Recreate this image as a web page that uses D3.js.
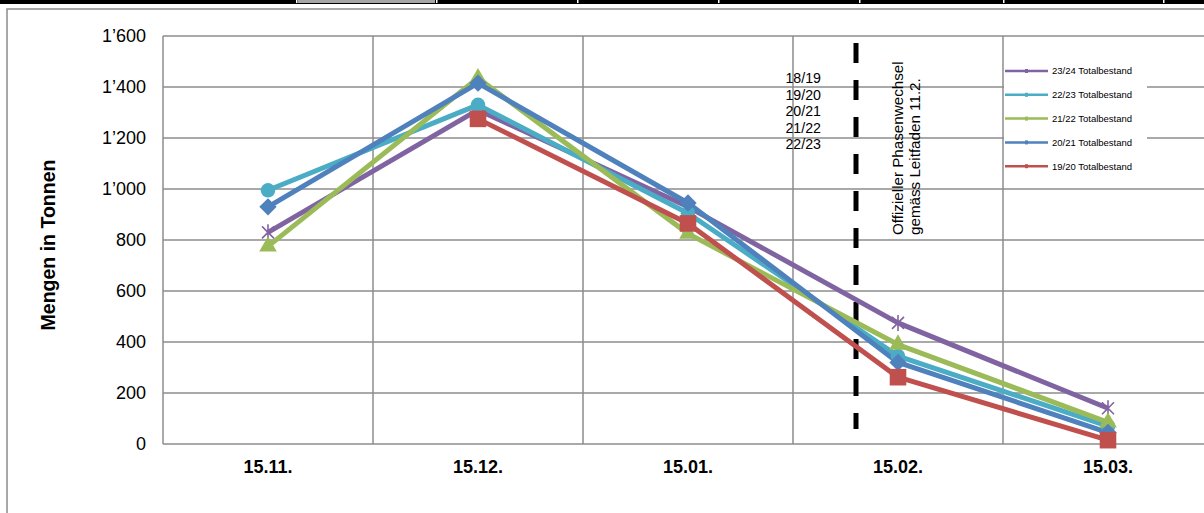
<!DOCTYPE html>
<html>
<head>
<meta charset="utf-8">
<script src="https://cdn.jsdelivr.net/npm/d3@7"></script>
<style>
  body { margin: 0; background: #fff; }
  svg { font-family: "Liberation Sans", Arial, sans-serif; }
</style>
</head>
<body>
<svg width="1204" height="513"></svg>
<script>
// data
var categories = ["15.11.", "15.12.", "15.01.", "15.02.", "15.03."];
var seriesNames = ["23/24 Totalbestand", "22/23 Totalbestand", "21/22 Totalbestand", "20/21 Totalbestand", "19/20 Totalbestand"];
var s2324 = [830, 1310, 930, 475, 140];
var s2223 = [995, 1330, 905, 345, 70];
var s2122 = [775, 1435, 825, 390, 85];
var s2021 = [930, 1415, 945, 320, 45];
var s1920 = [null, 1275, 865, 262, 15];
var yTicks = [0, 200, 400, 600, 800, 1000, 1200, 1400, 1600];
var seasonLabels = ["18/19", "19/20", "20/21", "21/22", "22/23"];
var noteLines = ["Offizieller Phasenwechsel", "gemäss Leitfaden 11.2."];

var colors = ["#8064A2", "#4BACC6", "#9BBB59", "#4F81BD", "#C0504D"];
var symbols = ["star", d3.symbolCircle, d3.symbolTriangle, "diamond", d3.symbolSquare];
var sizes = [0, 165, 135, 150, 275];
var values = [s2324, s2223, s2122, s2021, s1920];

var plotLeft = 163, plotRight = 1213, plotTop = 36, plotBottom = 444;

var svg = d3.select("svg");

// spreadsheet strip at the very top
svg.append("rect").attr("x", 0).attr("y", 0).attr("width", 1204).attr("height", 4).attr("fill", "#000");
svg.append("rect").attr("x", 298).attr("y", 0).attr("width", 137).attr("height", 3).attr("fill", "#a6a6a6");
[296, 436, 577, 718, 859, 1003, 1163].forEach(function(x) {
  svg.append("rect").attr("x", x).attr("y", 0).attr("width", 1.5).attr("height", 3).attr("fill", "#fff");
});

// chart frame
svg.append("path")
    .attr("d", "M7,513 V9 H1204")
    .attr("fill", "none")
    .attr("stroke", "#8c8c8c")
    .attr("stroke-width", 1.5);

var xScale = d3.scaleBand()
    .domain(categories)
    .range([plotLeft, plotRight])
    .padding(0);

var yScale = d3.scaleLinear()
    .domain([0, 1600])
    .range([plotBottom, plotTop]);

var fmt = d3.formatLocale({decimal: ".", thousands: "\u2019", grouping: [3], currency: ["", ""]}).format(",d");

// horizontal grid
svg.append("g")
  .selectAll("line")
  .data(yTicks)
  .enter()
  .append("line")
    .attr("x1", plotLeft)
    .attr("x2", 1204)
    .attr("y1", d => yScale(d))
    .attr("y2", d => yScale(d))
    .attr("stroke", "#8c8c8c")
    .attr("stroke-width", 1.5);

// vertical grid at category boundaries
svg.append("g")
  .selectAll("line")
  .data(categories)
  .enter()
  .append("line")
    .attr("x1", d => xScale(d))
    .attr("x2", d => xScale(d))
    .attr("y1", plotTop)
    .attr("y2", plotBottom)
    .attr("stroke", "#8c8c8c")
    .attr("stroke-width", 1.5);

// y axis labels
var yAxis = d3.axisLeft(yScale)
    .tickValues(yTicks)
    .tickFormat(fmt)
    .tickSize(0)
    .tickPadding(17);

var gy = svg.append("g")
    .attr("transform", "translate(" + plotLeft + ",0)")
    .call(yAxis);
gy.select(".domain").remove();
gy.selectAll("text").style("font-size", "18px").attr("fill", "#000")
    .style("font-family", "'Liberation Sans', Arial, sans-serif");

// x axis labels
var xAxis = d3.axisBottom(xScale)
    .tickSize(0)
    .tickPadding(16);

var gx = svg.append("g")
    .attr("transform", "translate(0," + plotBottom + ")")
    .call(xAxis);
gx.select(".domain").remove();
gx.selectAll("text").style("font-size", "18px").style("font-weight", "bold").attr("fill", "#000")
    .style("font-family", "'Liberation Sans', Arial, sans-serif");

svg.append("text")
    .attr("transform", "rotate(-90)")
    .attr("x", -245)
    .attr("y", 55)
    .style("text-anchor", "middle")
    .style("font-size", "19.5px")
    .style("font-weight", "bold")
    .text("Mengen in Tonnen");

// phase change marker
var step = xScale.step();
var phaseX = xScale("15.02.") + step / 2 - 0.2 * step;
svg.append("line")
    .attr("x1", phaseX).attr("x2", phaseX)
    .attr("y1", 43).attr("y2", 429)
    .attr("stroke", "#000")
    .attr("stroke-width", 5)
    .attr("stroke-dasharray", "20,17");

svg.append("g")
  .selectAll("text")
  .data(seasonLabels)
  .enter()
  .append("text")
    .attr("x", 821)
    .attr("y", (d, i) => 83 + i * 16.6)
    .style("text-anchor", "end")
    .style("font-size", "14.2px")
    .text(d => d);

svg.append("g")
  .selectAll("text")
  .data(noteLines)
  .enter()
  .append("text")
    .attr("transform", (d, i) => "translate(" + (903 + i * 17) + ",235) rotate(-90)")
    .style("font-size", "15.2px")
    .text(d => d);

// series lines and markers
var line = d3.line()
    .defined(d => d != null)
    .x((d, i) => xScale(categories[i]) + step / 2)
    .y(d => yScale(d));

values.forEach(function(vals, k) {
  svg.append("path")
      .datum(vals)
      .attr("d", line)
      .attr("fill", "none")
      .attr("stroke", colors[k])
      .attr("stroke-width", 5)
      .attr("stroke-linejoin", "round");
});

values.forEach(function(vals, k) {
  var pts = vals.map((v, i) => ({v: v, c: categories[i]})).filter(d => d.v != null);
  var g = svg.append("g");
  var pos = d => "translate(" + (xScale(d.c) + step / 2) + "," + yScale(d.v) + ")";
  if (symbols[k] === "star") {
    g.selectAll("path")
      .data(pts)
      .enter()
      .append("path")
        .attr("transform", pos)
        .attr("d", "M-6,-6L6,6M-6,6L6,-6M0,-8V8")
        .attr("stroke", colors[k])
        .attr("stroke-width", 1.6)
        .attr("fill", "none");
  } else if (symbols[k] === "diamond") {
    g.selectAll("path")
      .data(pts)
      .enter()
      .append("path")
        .attr("transform", d => pos(d) + " rotate(45)")
        .attr("d", d3.symbol().type(d3.symbolSquare).size(sizes[k]))
        .attr("fill", colors[k]);
  } else {
    g.selectAll("path")
      .data(pts)
      .enter()
      .append("path")
        .attr("transform", pos)
        .attr("d", d3.symbol().type(symbols[k]).size(sizes[k]))
        .attr("fill", colors[k]);
  }
});

// legend
var legend = svg.append("g").attr("transform", "translate(1004,58)");
legend.append("rect")
    .attr("width", 143)
    .attr("height", 119)
    .attr("fill", "#fff");

var items = legend.selectAll("g")
  .data(seriesNames)
  .enter()
  .append("g")
    .attr("transform", (d, i) => "translate(0," + (13 + i * 23.8) + ")");

items.append("line")
    .attr("x1", 1).attr("x2", 44)
    .attr("stroke", (d, i) => colors[i])
    .attr("stroke-width", 2.5);

items.append("rect")
    .attr("x", 21).attr("y", -2).attr("width", 3).attr("height", 4)
    .attr("fill", (d, i) => colors[i]);

items.append("text")
    .attr("x", 48)
    .attr("dy", "0.35em")
    .style("font-size", "9.5px")
    .text(d => d);
</script>
</body>
</html>
